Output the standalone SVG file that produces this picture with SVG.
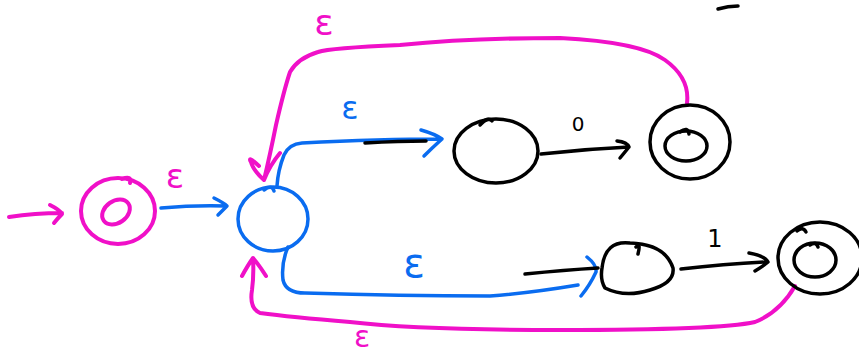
<svg xmlns="http://www.w3.org/2000/svg" width="859" height="355" viewBox="0 0 859 355">
<style>
.s{fill:none;stroke-linecap:round;stroke-linejoin:round}
.pk{stroke:#f010c8;stroke-width:4}
.bl{stroke:#0a6cf0;stroke-width:3.5}
.bk{stroke:#000;stroke-width:3.5}
.t{font-family:"DejaVu Sans",sans-serif;text-anchor:middle;dominant-baseline:central}
</style>
<rect width="859" height="355" fill="#fff"/>
<g id="connectors" class="s">
  <path class="pk" d="M9,217 Q35,213 62,213 M50,205 Q60,210 62,214 Q58,218 54,223"/>
  <path class="bl" d="M161,208 Q195,205 226,206 M214,198 Q224,203 227,206 Q222,211 218,215"/>
  <path class="bl" d="M277,186 Q278,170 284,155 Q289,144 302,143 Q380,139 442,139 M421,130 Q435,134 442,139 Q432,148 424,156"/>
  <path class="bk" d="M365,143 Q400,141 426,141"/>
  <path class="bk" d="M541,154 Q585,149 629,147 M617,141 Q627,142 629,147 Q625,152 620,158"/>
  <path class="bl" d="M288,247 Q281,263 283,280 Q286,293 305,293 Q400,296 490,296 Q530,293 578,285 M587,257 Q597,265 596,272 Q590,285 581,296"/>
  <path class="bk" d="M525,274 Q565,270 598,268"/>
  <path class="bk" d="M681,269 Q725,264 766,262 M749,253 Q765,256 768,262 Q762,267 755,271"/>
  <path class="pk" d="M687,103 Q690,78 665,60 Q640,42 560,38 Q470,38 400,45 Q330,48 318,52 Q298,58 290,72 Q284,90 276,125 Q270,155 264,180 M259,166 Q247,155 251,162 Q253,170 264,180 Q270,165 280,153"/>
  <path class="pk" d="M795,286 Q780,312 755,322 Q720,330 560,330 Q420,330 350,322 Q290,317 260,313 Q249,308 252,290 Q254,275 253,258 M242,276 Q248,265 253,258 Q259,265 266,276"/>
  <path class="bk" d="M718,9 Q728,6 738,6"/>
</g>
<g id="q0" class="s">
  <ellipse class="pk" cx="118" cy="211" rx="37" ry="33"/>
  <path class="pk" d="M122,179 Q132,175 130,183"/>
  <ellipse class="pk" cx="116" cy="212" rx="15" ry="11" transform="rotate(-35 116 212)"/>
</g>
<g id="q1" class="s">
  <ellipse class="bl" cx="273" cy="219" rx="35" ry="32"/>
  <path class="bl" d="M264,190 Q272,184 274,191"/>
</g>
<g id="q2" class="s">
  <ellipse class="bk" cx="496" cy="151" rx="42" ry="32"/>
  <path class="bk" d="M480,125 Q488,116 492,121"/>
</g>
<g id="q3" class="s">
  <ellipse class="bk" cx="690" cy="142" rx="40" ry="37"/>
  <ellipse class="bk" cx="686" cy="146" rx="21" ry="15"/>
  <path class="bk" d="M680,132 Q688,126 689,134"/>
</g>
<g id="q4" class="s">
  <path class="bk" d="M602,268 Q605,240 630,243 Q665,244 673,268 Q675,283 650,290 Q625,298 605,288 Q600,280 602,268 Z"/>
  <path class="bk" d="M636,247 Q641,242 638,254"/>
</g>
<g id="q5" class="s">
  <ellipse class="bk" cx="820" cy="258" rx="42" ry="36"/>
  <ellipse class="bk" cx="815" cy="260" rx="21" ry="17"/>
  <path class="bk" d="M797,231 Q803,226 806,232 M810,245 Q816,241 818,247"/>
</g>
<g id="labels">
  <text class="t" x="324" y="22" font-size="36" fill="#f010c8">ε</text>
  <text class="t" x="175" y="176" font-size="34" fill="#f010c8">ε</text>
  <text class="t" x="350" y="108" font-size="32" fill="#0a6cf0">ε</text>
  <text class="t" x="414" y="263" font-size="40" fill="#0a6cf0">ε</text>
  <text class="t" x="362" y="336" font-size="30" fill="#f010c8">ε</text>
  <text class="t" x="578" y="124" font-size="20" fill="#000">0</text>
  <text class="t" x="715" y="239" font-size="24" fill="#000">1</text>
</g>
</svg>
